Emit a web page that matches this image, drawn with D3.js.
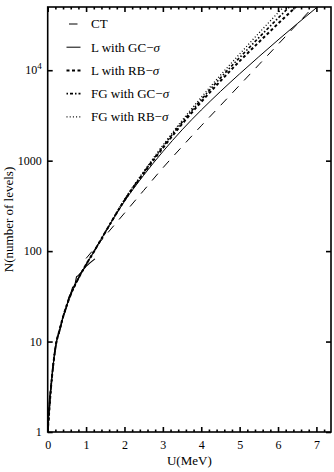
<!DOCTYPE html>
<html>
<head>
<meta charset="utf-8">
<script src="https://cdn.jsdelivr.net/npm/d3@7"></script>
<style>
  body { margin: 0; background: #fff; }
  text { font-family: "Liberation Serif", "DejaVu Serif", serif; fill: #000; }
</style>
</head>
<body>
<div id="chart"></div>
<script>
// energies (MeV) shared by the four model curves
const energy = [0, 0.03, 0.08, 0.15, 0.22, 0.3, 0.42, 0.6, 0.8, 1.0, 1.2, 1.5, 2.0, 2.5, 3.0, 3.5, 4.0, 4.5, 5.0, 5.5, 6.0, 6.5, 7.0, 7.2];
const lowN = [1, 1.5, 2.9, 5.8, 9.5, 13, 20, 33, 50, 71, 98, 162];
const lGC = lowN.concat([355, 690, 1260, 2190, 3630, 5820, 9120, 14100, 21600, 32700, 49000, 57500]);
const lRB = lowN.concat([363, 724, 1380, 2540, 4470, 7590, 12600, 20400, 32700, 51900, 81300, 95000]);
const fgGC = lowN.concat([367, 741, 1430, 2660, 4730, 8220, 13800, 22900, 37600, 61000, 97700, 115000]);
const fgRB = lowN.concat([372, 759, 1480, 2790, 5010, 8810, 15100, 25700, 43200, 71600, 117000, 140000]);

// constant temperature
const ctU = [1.0, 1.5, 2.0, 2.5, 3.0, 3.5, 4.0, 4.5, 5.0, 5.5, 6.0, 6.5, 7.0, 7.2];
const ctN = [83, 148, 263, 468, 832, 1430, 2430, 4070, 6840, 11500, 19300, 32400, 54300, 66000];

// experimental cumulative levels (no legend entry)
const expU = [0, 0.02, 0.05, 0.08, 0.12, 0.16, 0.2, 0.25, 0.3, 0.35, 0.4, 0.45, 0.5, 0.55, 0.6, 0.65, 0.7, 0.75, 0.8, 0.9, 1.0, 1.1, 1.23];
const expN = [1, 1.6, 2.5, 3, 4.5, 6.5, 8.5, 11, 12.5, 15, 19, 21, 25, 31, 34, 40, 40.5, 52, 54, 60, 68, 74, 82];

const xTicks = [0, 1, 2, 3, 4, 5, 6, 7];
const yTicks = [1, 10, 100, 1000, 10000];
const yTickLabels = ['1', '10', '100', '1000', '10^4'];
const legendLabels = ['CT', 'L with GC', 'L with RB', 'FG with GC', 'FG with RB'];

const W = 334, H = 472;
const margin = { top: 7, right: 3, bottom: 40, left: 47.7 };
const width = W - margin.left - margin.right;
const height = H - margin.top - margin.bottom;

const svg = d3.select('#chart').append('svg')
  .attr('width', W)
  .attr('height', H);

const g = svg.append('g')
  .attr('transform', `translate(${margin.left},${margin.top})`);

const x = d3.scaleLinear().domain([0, 7.38]).range([0, width]);
const y = d3.scaleLog().domain([1, 50000]).range([height, 0]);

g.append('clipPath').attr('id', 'clip')
  .append('rect').attr('width', width).attr('height', height);

const styles = [
  { dash: '9,8', w: 1 },        // CT
  { dash: null, w: 1 },         // L GC
  { dash: '3,2.5', w: 2 },      // L RB
  { dash: '1.5,2,3,2', w: 1.6 },// FG GC
  { dash: '1,2.2', w: 1.3 }     // FG RB
];

const line = d3.line()
  .x((d) => x(d[0]))
  .y((d) => y(d[1]))
  .curve(d3.curveMonotoneX);

const series = [
  { pts: d3.zip(ctU, ctN), s: styles[0] },
  { pts: d3.zip(energy, lGC), s: styles[1] },
  { pts: d3.zip(energy, lRB), s: styles[2] },
  { pts: d3.zip(energy, fgGC), s: styles[3] },
  { pts: d3.zip(energy, fgRB), s: styles[4] }
];

const plot = g.append('g').attr('clip-path', 'url(#clip)');

plot.append('path')
  .attr('d', d3.line().x((d) => x(d[0])).y((d) => y(d[1]))(d3.zip(expU, expN)))
  .attr('fill', 'none')
  .attr('stroke', '#000')
  .attr('stroke-width', 1.1);

series.forEach((sr) => {
  plot.append('path')
    .attr('d', line(sr.pts))
    .attr('fill', 'none')
    .attr('stroke', '#000')
    .attr('stroke-width', sr.s.w)
    .attr('stroke-dasharray', sr.s.dash);
});

// axes (ticks pointing inward)
const minorX = d3.range(0, 7.3, 0.2).filter((v) => Math.abs(v - Math.round(v)) > 0.01);

const xAxis = g.append('g')
  .attr('transform', `translate(0,${height})`)
  .call(d3.axisBottom(x).tickValues(xTicks).tickFormat(d3.format('d')).tickSize(-5).tickPadding(8));
g.append('g')
  .attr('transform', `translate(0,${height})`)
  .call(d3.axisBottom(x).tickValues(minorX).tickFormat('').tickSize(-2.5));
g.append('g')
  .call(d3.axisTop(x).tickValues(xTicks).tickFormat('').tickSize(-5));
g.append('g')
  .call(d3.axisTop(x).tickValues(minorX).tickFormat('').tickSize(-2.5));

g.append('g')
  .call(d3.axisLeft(y).tickValues(yTicks).tickFormat('').tickSize(-5));
g.append('g')
  .attr('transform', `translate(${width},0)`)
  .call(d3.axisRight(y).tickValues(yTicks).tickFormat('').tickSize(-5));

g.selectAll('.domain').remove();
g.selectAll('.tick line').attr('stroke', '#000').attr('stroke-width', 1.6);
xAxis.selectAll('text').style('font-size', '12px').style('font-family', '"Liberation Serif", serif');

// y tick labels
yTicks.forEach((v, i) => {
  const t = g.append('text')
    .attr('x', -6)
    .attr('y', y(v) + 4)
    .attr('text-anchor', 'end')
    .style('font-size', '12px');
  const lab = yTickLabels[i];
  if (lab.includes('^')) {
    const [b, e] = lab.split('^');
    t.append('tspan').text(b);
    t.append('tspan').attr('dy', -5).style('font-size', '9px').text(e);
  } else {
    t.text(lab);
  }
});

// frame
g.append('rect')
  .attr('width', width)
  .attr('height', height)
  .attr('fill', 'none')
  .attr('stroke', '#000')
  .attr('stroke-width', 1.6);

// axis titles
svg.append('text')
  .attr('x', margin.left + width / 2)
  .attr('y', 465)
  .attr('text-anchor', 'middle')
  .style('font-size', '13px')
  .text('U(MeV)');

svg.append('text')
  .attr('transform', `translate(12.5,${margin.top + height / 2}) rotate(-90)`)
  .attr('text-anchor', 'middle')
  .style('font-size', '13px')
  .text('N(number of levels)');

// legend
const legend = svg.append('g');
legendLabels.forEach((lab, i) => {
  const cy = 24 + i * 23.2;
  const s = styles[i];
  legend.append('line')
    .attr('x1', i === 0 ? 69 : 66.5)
    .attr('x2', i === 0 ? 77.5 : 80.5)
    .attr('y1', cy)
    .attr('y2', cy)
    .attr('stroke', '#000')
    .attr('stroke-width', s.w)
    .attr('stroke-dasharray', i === 0 ? null : s.dash);
  const t = legend.append('text')
    .attr('x', 91)
    .attr('y', cy + 4.3)
    .style('font-size', '13px');
  t.append('tspan').text(lab);
  if (i > 0) {
    t.append('tspan').text('\u2212');
    t.append('tspan').style('font-style', 'italic').text('\u03c3');
  }
});
</script>
</body>
</html>
